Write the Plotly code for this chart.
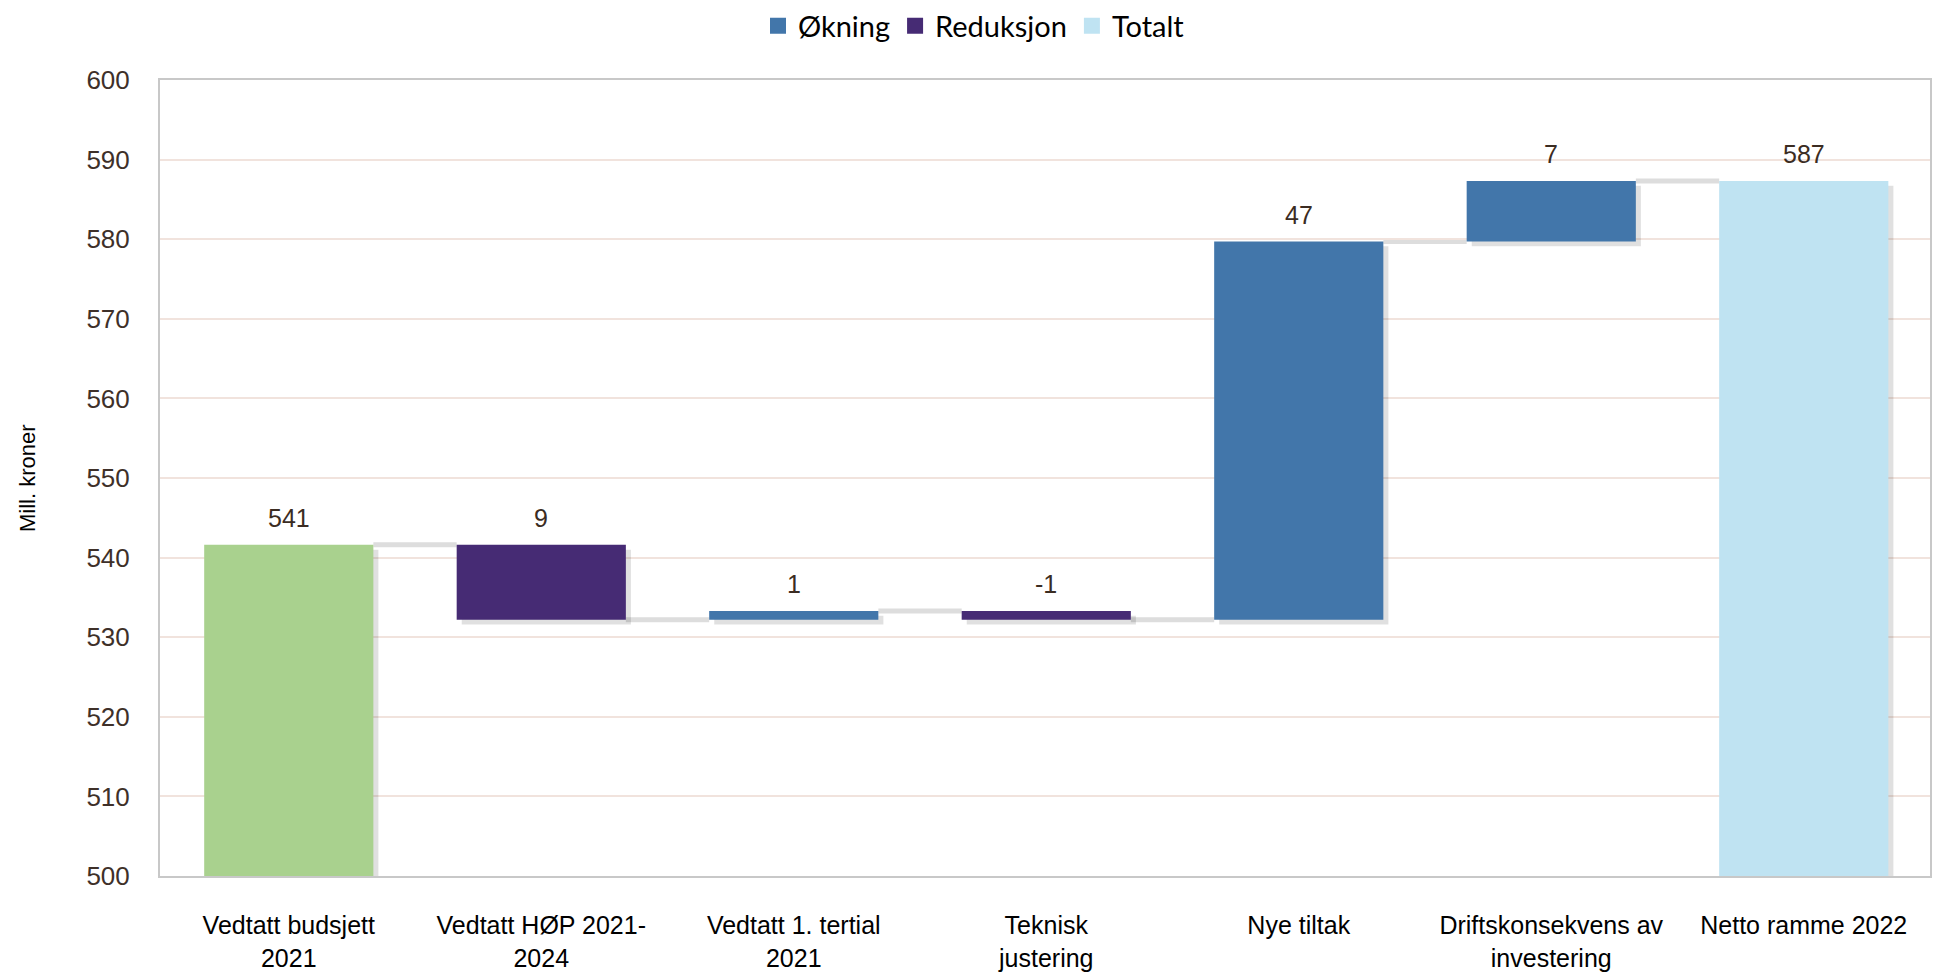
import plotly.graph_objects as go

# ---- data ----
categories = [
    "Vedtatt budsjett<br>2021",
    "Vedtatt HØP 2021-<br>2024",
    "Vedtatt 1. tertial<br>2021",
    "Teknisk<br>justering",
    "Nye tiltak",
    "Driftskonsekvens av<br>investering",
    "Netto ramme 2022",
]
kinds = ["start", "dec", "inc", "dec", "inc", "inc", "total"]
changes = [541.6, -9.4, 1.1, -1.1, 47.5, 7.6, None]
value_labels = ["541", "9", "1", "-1", "47", "7", "587"]
legend_kinds = ["inc", "dec", "total"]
legend_names = {"inc": "Økning", "dec": "Reduksjon", "total": "Totalt"}
y_ticks = [500, 510, 520, 530, 540, 550, 560, 570, 580, 590, 600]

colors = {"start": "#A9D18E", "inc": "#4276AA", "dec": "#462B74", "total": "#BFE3F2"}

# ---- derive waterfall geometry from data ----
bases, heights, levels = [], [], []
level = 0.0
for kind, ch in zip(kinds, changes):
    if kind == "start":
        bases.append(0.0); heights.append(ch); level = ch
    elif kind == "total":
        bases.append(0.0); heights.append(level)
    else:
        bases.append(level); heights.append(ch); level = level + ch
    levels.append(level)

W = 0.67
fig = go.Figure()

# shadows
for kind in ["start", "inc", "dec", "total"]:
    idx = [i for i, k in enumerate(kinds) if k == kind]
    fig.add_trace(go.Bar(
        x=[categories[i] for i in idx],
        y=[heights[i] for i in idx],
        base=[bases[i] - 0.6 for i in idx],
        width=W, offset=-W / 2 + 0.02,
        marker=dict(color="rgba(0,0,0,0.12)", line=dict(width=0)),
        showlegend=False, hoverinfo="skip",
    ))

for kind in ["start", "inc", "dec", "total"]:
    idx = [i for i, k in enumerate(kinds) if k == kind]
    fig.add_trace(go.Bar(
        x=[categories[i] for i in idx],
        y=[heights[i] for i in idx],
        base=[bases[i] for i in idx],
        width=W, offset=-W / 2,
        marker=dict(color=colors[kind], line=dict(width=0)),
        name=legend_names.get(kind, ""),
        showlegend=False,
    ))

# legend entries (square markers)
for kind in legend_kinds:
    fig.add_trace(go.Scatter(
        x=[None], y=[None], mode="markers", name=legend_names[kind],
        marker=dict(symbol="square", size=19, color=colors[kind]),
        showlegend=True, hoverinfo="skip",
    ))

shapes = []
for i in range(len(categories) - 1):
    shapes.append(dict(
        type="line", xref="x", yref="y",
        x0=i + W / 2, x1=i + 1 - W / 2, y0=levels[i], y1=levels[i],
        line=dict(color="#DDDDDD", width=5), layer="below",
    ))

annotations = []
for i, lab in enumerate(value_labels):
    top = max(bases[i], bases[i] + heights[i])
    annotations.append(dict(
        x=categories[i], y=top, xref="x", yref="y", text=lab, showarrow=False,
        yanchor="middle", yshift=27,
        font=dict(family="Liberation Sans, Arial", size=25, color="#3B2C22"),
    ))
annotations.append(dict(
    x=(27 - 160) / 1770, y=0.5, xref="paper", yref="paper", text="Mill. kroner",
    textangle=-90, showarrow=False, xanchor="center", yanchor="middle",
    font=dict(family="Liberation Sans, Arial", size=22, color="#000000"),
))

fig.update_layout(
    width=1934, height=975,
    margin=dict(l=160, r=4, t=80, b=99),
    barmode="overlay",
    paper_bgcolor="white", plot_bgcolor="white",
    shapes=shapes, annotations=annotations,
    legend=dict(
        orientation="h", xref="container", yref="container",
        x=974 / 1934, xanchor="center", y=1 - 26 / 975, yanchor="middle",
        font=dict(family="Lato", size=29, color="#000000"),
        itemclick=False, itemwidth=30,
    ),
    xaxis=dict(
        categoryorder="array", categoryarray=categories,
        range=[-0.51, 6.5], automargin=False,
        showline=True, mirror=True, linecolor="#C8C8C8", linewidth=2,
        tickfont=dict(family="Liberation Sans, Arial", size=25, color="#000000"),
        ticklabelstandoff=26, showgrid=False, ticks="",
    ),
    yaxis=dict(
        range=[500, 600], tickvals=y_ticks, automargin=False,
        showline=True, mirror=True, linecolor="#C8C8C8", linewidth=2,
        gridcolor="#F1E3DD", gridwidth=1.5, zeroline=False,
        tickfont=dict(family="Liberation Sans, Arial", size=26, color="#3E3029"),
        ticklabelstandoff=23, ticks="",
    ),
)

fig.write_html("out.html", config={"displayModeBar": False},
               post_script="document.body.style.margin='0';")
